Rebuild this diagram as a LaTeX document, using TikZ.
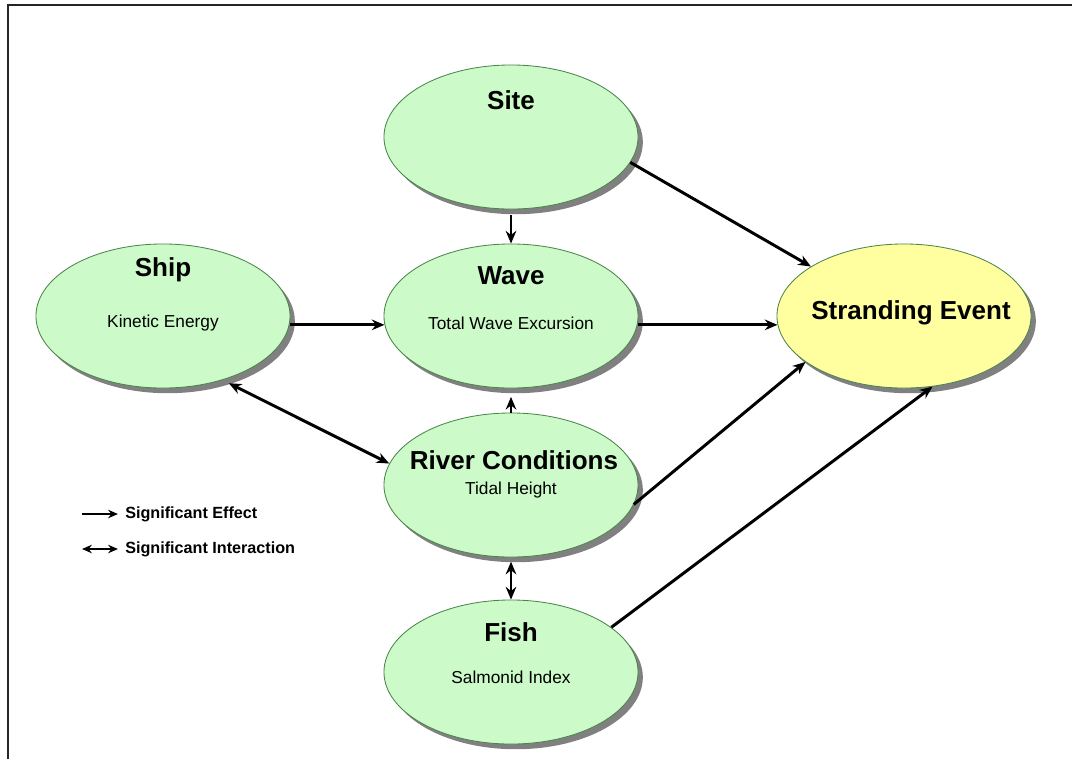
\documentclass[tikz,border=0pt]{standalone}
\usepackage{fontspec}
\setmainfont{Liberation Sans}
\usepackage{tikz}
\usetikzlibrary{arrows.meta, positioning, shapes.geometric, shadows, calc}

\begin{document}
\begin{tikzpicture}[x=0.025cm, y=-0.025cm,
    bubble/.style={ellipse, draw=black!45!green!40!gray, line width=0.6pt,
      fill=factorgreen, minimum width=6.35cm, minimum height=3.6cm, inner sep=0pt,
      drop shadow={shadow xshift=0.12cm, shadow yshift=-0.13cm, fill=black!50, opacity=1}},
    title/.style={font=\bfseries\fontsize{18.5}{20}\selectfont},
    sub/.style={font=\fontsize{12.3}{14}\selectfont},
    legend/.style={font=\bfseries\fontsize{11.5}{13}\selectfont, inner sep=0pt},
    effect/.style={line width=2.1pt, -{Stealth[length=9pt, width=7.5pt]}},
    inter/.style={line width=2.1pt, {Stealth[length=9pt, width=7.5pt]}-{Stealth[length=9pt, width=7.5pt]}}]
  % Define colors
  \definecolor{factorgreen}{RGB}{204, 250, 200}
  \definecolor{eventyellow}{RGB}{255, 255, 160}

  \useasboundingbox (0,0) rectangle (1072,759);

  % frame
  \draw[line width=1.4pt, black!85] (8,759) -- (8,5) -- (1072,5);

  % Factors
  \node[bubble] (site) at (511,137) {};
  \node[bubble] (ship) at (163,316) {};
  \node[bubble] (wave) at (511,316) {};
  \node[bubble] (river) at (511,485) {};
  \node[bubble] (fish) at (511,672) {};
  \node[bubble, fill=eventyellow] (strand) at (904,316) {};

  % Labels
  \node[title] at ($(site)+(0,-37)$) {Site};
  \node[title] at ($(ship)+(0,-46)$) {Ship};
  \node[sub] at ($(ship)+(0,7)$) {Kinetic Energy};
  \node[title] at ($(wave)+(0,-40)$) {Wave};
  \node[sub] at ($(wave)+(0,7)$) {Total Wave Excursion};
  \node[title] at ($(river)+(3,-25)$) {River Conditions};
  \node[sub] at ($(river)+(0,5)$) {Tidal Height};
  \node[title] at ($(fish)+(0,-40)$) {Fish};
  \node[sub] at ($(fish)+(0,5)$) {Salmonid Index};
  \node[title] at ($(strand)+(7,-3)$) {Stranding Event};

  % Effects
  \draw[effect] ([yshift=-4pt]site.south) -- (wave.north);
  \draw[effect] (site.-12) -- (strand.152);
  \draw[effect] (ship.-4) -- (wave.184);
  \draw[effect] (wave.-4) -- (strand.184);
  \draw[effect] (river.north) -- ([yshift=-6pt]wave.south);
  \draw[effect] (river.-9) -- (strand.205);
  \draw[effect] (fish.24) -- (strand.-68);

  % Interactions
  \draw[inter] ([shift={(2pt,-3pt)}]ship.-45) -- (river.170);
  \draw[inter] ([yshift=-3pt]river.south) -- (fish.north);

  % Legend
  \coordinate (lgone) at (82,514);
  \coordinate (lgtwo) at (82,549);
  \node[legend, anchor=west] (sigeff) at (125,514) {Significant Effect};
  \node[legend, anchor=west] (sigint) at (125,549) {Significant Interaction};
  \draw[line width=1.5pt, -{Stealth[length=7pt, width=6pt]}] (lgone) -- ([xshift=-5pt]sigeff.west);
  \draw[line width=1.5pt, {Stealth[length=7pt, width=6pt]}-{Stealth[length=7pt, width=6pt]}] (lgtwo) -- ([xshift=-5pt]sigint.west);
\end{tikzpicture}
\end{document}
